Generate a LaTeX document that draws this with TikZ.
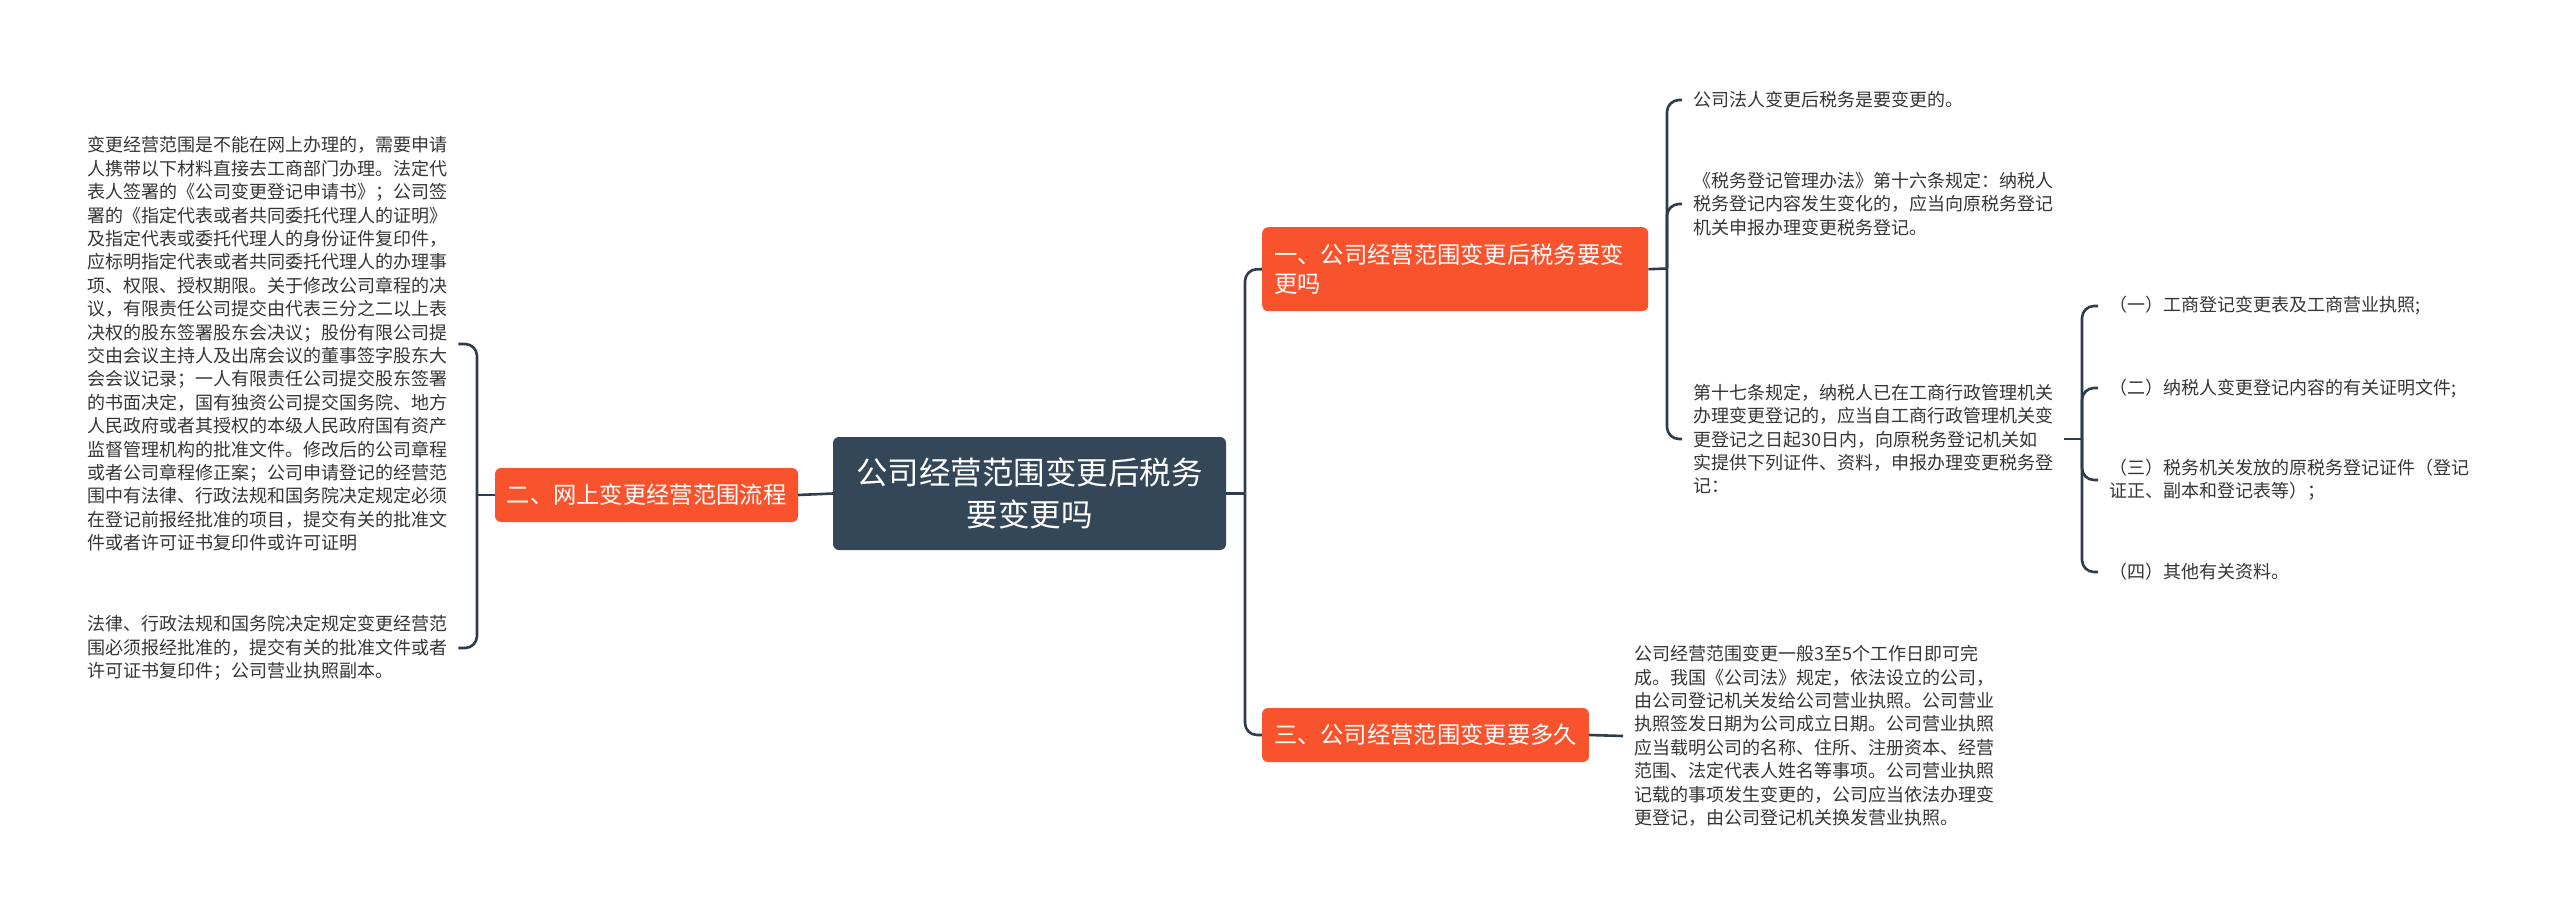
\documentclass[tikz,border=0pt]{standalone}
\usepackage{fontspec}
\setmainfont{Noto Sans CJK SC}
\definecolor{lineC}{HTML}{2E3D4D}
\definecolor{rootC}{HTML}{344758}
\definecolor{branchC}{HTML}{F9532D}
\definecolor{txtC}{HTML}{363636}
\begin{document}
\begin{tikzpicture}[x=1pt,y=-1pt,
  root/.style={fill=rootC, rounded corners=6pt, text=white, font=\fontsize{31.5}{42}\selectfont, align=center, minimum width=393pt, minimum height=113pt, inner sep=0pt},
  branch/.style={fill=branchC, rounded corners=6pt, text=white, font=\fontsize{23.3}{28.5}\selectfont, inner xsep=12pt, inner ysep=0pt, minimum height=54pt, align=left},
  leaf/.style={text=txtC, font=\fontsize{18}{23.4}\selectfont, align=left, inner xsep=11pt, inner ysep=0pt},
  conn/.style={draw=lineC, line width=2.6pt},
  elbow/.style={conn, rounded corners=12pt}]
\useasboundingbox (0,0) rectangle (2560,916);
\fill[white] (0,0) rectangle (2560,916);

% nodes
\node[root] (c) at (1029.5,493.5) {公司经营范围变更后税务\\要变更吗};
\node[branch, minimum width=303pt, inner xsep=10.5pt] (n2) at (646.5,495) {二、网上变更经营范围流程};
\node[branch, anchor=north west, text width=362pt, minimum height=84pt] (n1) at (1262,227) {一、公司经营范围变更后税务要变\\更吗};
\node[branch, minimum width=325pt] (n3) at (1425.5,735) {三、公司经营范围变更要多久};

\node[leaf, anchor=west] (l1) at (76,344) {变更经营范围是不能在网上办理的，需要申请\\人携带以下材料直接去工商部门办理。法定代\\表人签署的《公司变更登记申请书》；公司签\\署的《指定代表或者共同委托代理人的证明》\\及指定代表或委托代理人的身份证件复印件，\\应标明指定代表或者共同委托代理人的办理事\\项、权限、授权期限。关于修改公司章程的决\\议，有限责任公司提交由代表三分之二以上表\\决权的股东签署股东会决议；股份有限公司提\\交由会议主持人及出席会议的董事签字股东大\\会会议记录；一人有限责任公司提交股东签署\\的书面决定，国有独资公司提交国务院、地方\\人民政府或者其授权的本级人民政府国有资产\\监督管理机构的批准文件。修改后的公司章程\\或者公司章程修正案；公司申请登记的经营范\\围中有法律、行政法规和国务院决定规定必须\\在登记前报经批准的项目，提交有关的批准文\\件或者许可证书复印件或许可证明};
\node[leaf, anchor=west] (l2) at (76,648) {法律、行政法规和国务院决定规定变更经营范\\围必须报经批准的，提交有关的批准文件或者\\许可证书复印件；公司营业执照副本。};

\node[leaf, anchor=west] (a1) at (1682,100) {公司法人变更后税务是要变更的。};
\node[leaf, anchor=west] (a2) at (1682,204) {《税务登记管理办法》第十六条规定：纳税人\\税务登记内容发生变化的，应当向原税务登记\\机关申报办理变更税务登记。};
\node[leaf, anchor=west] (a3) at (1682,439) {第十七条规定，纳税人已在工商行政管理机关\\办理变更登记的，应当自工商行政管理机关变\\更登记之日起30日内，向原税务登记机关如\\实提供下列证件、资料，申报办理变更税务登\\记：};

\node[leaf, anchor=west] (b1) at (2098,306) {（一）工商登记变更表及工商营业执照;};
\node[leaf, anchor=west] (b2) at (2098,388) {（二）纳税人变更登记内容的有关证明文件;};
\node[leaf, anchor=west] (b3) at (2098,480) {（三）税务机关发放的原税务登记证件（登记\\证正、副本和登记表等）；};
\node[leaf, anchor=west] (b4) at (2098,572) {（四）其他有关资料。};

\node[leaf, anchor=west] (c1) at (1623,736) {公司经营范围变更一般3至5个工作日即可完\\成。我国《公司法》规定，依法设立的公司，\\由公司登记机关发给公司营业执照。公司营业\\执照签发日期为公司成立日期。公司营业执照\\应当载明公司的名称、住所、注册资本、经营\\范围、法定代表人姓名等事项。公司营业执照\\记载的事项发生变更的，公司应当依法办理变\\更登记，由公司登记机关换发营业执照。};

% junctions
\coordinate (jc) at (1245,493.5);
\coordinate (jl) at (477,495);
\coordinate (j1) at (1667,268.5);
\coordinate (j3) at (2082,439);

% connectors
\draw[conn] (c.east) -- (jc);
\draw[elbow] (jc) |- (n1.west);
\draw[elbow] (jc) |- (n3.west);
\draw[conn] (c.west) -- (n2.east);
\draw[conn] (n2.west) -- (jl);
\draw[elbow] (jl) |- (l1.east);
\draw[elbow] (jl) |- (l2.east);
\draw[conn] (n1.east) -- (j1);
\draw[elbow] (j1) |- (a1.west);
\draw[elbow] (j1) |- (a2.west);
\draw[elbow] (j1) |- (a3.west);
\draw[conn] (a3.east) -- (j3);
\draw[elbow] (j3) |- (b1.west);
\draw[elbow] (j3) |- (b2.west);
\draw[elbow] (j3) |- (b3.west);
\draw[elbow] (j3) |- (b4.west);
\draw[conn] (n3.east) -- (c1.west);
\end{tikzpicture}
\end{document}
